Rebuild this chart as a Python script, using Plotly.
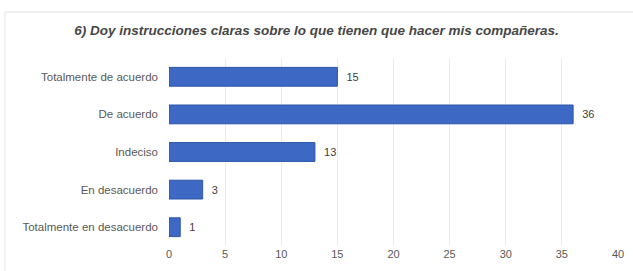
import plotly.graph_objects as go

categories = ["Totalmente en desacuerdo", "En desacuerdo", "Indeciso", "De acuerdo", "Totalmente de acuerdo"]
values = [1, 3, 13, 36, 15]
tick_vals = [0, 5, 10, 15, 20, 25, 30, 35, 40]
title = "6) Doy instrucciones claras sobre lo que tienen que hacer mis compañeras."

FONT = "Liberation Sans"
fig = go.Figure(go.Bar(
    x=values, y=categories, orientation="h",
    marker=dict(color="#3d69c4", line=dict(color="#2c55a8", width=1)),
    texttemplate="  %{x}", textposition="outside", cliponaxis=False,
    textfont=dict(size=11, color="#404040", family=FONT),
    width=0.5, hoverinfo="skip",
))

W, H = 633, 271
l, r, t, b = 169, 15, 58, 25
fig.update_layout(
    width=W, height=H,
    margin=dict(l=l, r=r, t=t, b=b, autoexpand=False),
    paper_bgcolor="white", plot_bgcolor="white",
    showlegend=False,
    title=dict(text="<b><i>" + title + "</i></b>", x=0.5, xanchor="center", y=1 - 30 / H, yanchor="middle",
               font=dict(size=13.5, color="#474747", family=FONT)),
    xaxis=dict(range=[0, 40], tickvals=tick_vals, showgrid=True, gridcolor="#ebebeb", gridwidth=1,
               zeroline=False, showline=False, ticks="",
               tickfont=dict(size=11, color="#595959", family=FONT)),
    yaxis=dict(categoryorder="array", categoryarray=categories, showgrid=False, showline=False,
               ticks="", ticklabelstandoff=10,
               tickfont=dict(size=11.5, color="#595959", family=FONT)),
    shapes=[dict(type="rect", xref="paper", yref="paper",
                 x0=(5 - l) / (W - l - r), x1=(W + 2 - l) / (W - l - r),
                 y0=-(b + 2) / (H - t - b),
                 y1=(H - b - 12) / (H - t - b),
                 line=dict(color="#e3e3e3", width=1))],
)

fig.write_html("out.html", config={"displayModeBar": False},
               post_script="document.body.style.margin='0';")
